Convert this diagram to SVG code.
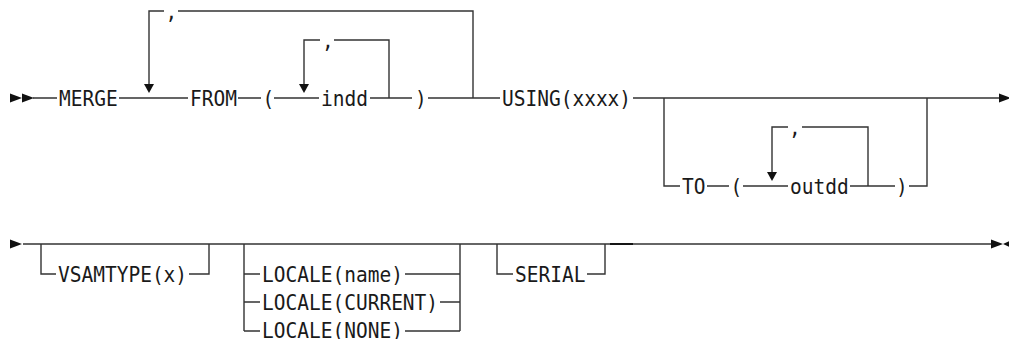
<svg xmlns="http://www.w3.org/2000/svg" width="1009" height="339" viewBox="0 0 1009 339">
<style>
.ln{stroke:#333;stroke-width:1.4;fill:none}
.dk{stroke:#111;stroke-width:1.9;fill:none}
.t{font-family:"DejaVu Sans Mono","Liberation Mono",monospace;font-size:21px;fill:#1a1a1a}
.ah{fill:#111}
</style>
<defs>
<path id="down" d="M-5,-9 L5,-9 L0,0 Z"/>
<path id="right" d="M0,-4.5 L12,0 L0,4.5 Z"/>
<path id="left" d="M10,-4.5 L0,0 L10,4.5 Z"/>
</defs>
<rect width="1009" height="339" fill="#fff"/>
<g id="connectors">
<path class="ln" d="M33,98 H57 M119,98 H188 M238,98 H261 M274,98 H319 M370,98 H412 M428,98 H500 M633,98 H1001"/>
<path class="ln" d="M149,91 V11 H164 M178,11 H473 V98"/>
<path class="ln" d="M304,91 V40 H320 M334,40 H389 V98"/>
<path class="ln" d="M664,98 V186 H680 M707,186 H729 M743,186 H788 M850,186 H895 M909,186 H927 V98"/>
<path class="ln" d="M772,179 V127 H788 M802,127 H868 V186"/>
<path class="ln" d="M23,244 H993"/>
<path class="ln" d="M41,244 V274 H56 M189,274 H209 V244"/>
<path class="ln" d="M244,244 V331 M244,274 H260 M244,302 H260 M244,331 H260 M405,274 H460 M440,302 H460 M405,331 H460 M460,244 V331"/>
<path class="ln" d="M497,244 V274 H513 M587,274 H605 V244"/>
<path class="dk" d="M610,244 H633"/>
<use href="#right" class="ah" x="10" y="98"/>
<use href="#right" class="ah" x="22" y="98"/>
<use href="#down" class="ah" x="149" y="93"/>
<use href="#down" class="ah" x="304" y="93"/>
<use href="#down" class="ah" x="772" y="181"/>
<use href="#right" class="ah" x="999" y="98"/>
<use href="#right" class="ah" x="10" y="244"/>
<use href="#right" class="ah" x="991" y="244"/>
<use href="#left" class="ah" x="1003" y="244"/>
</g>
<g id="merge"><text class="t" x="59" y="105.5" textLength="58.7" lengthAdjust="spacingAndGlyphs">MERGE</text></g>
<g id="comma-outer"><text class="t" x="165.6" y="18.5" textLength="11.7" lengthAdjust="spacingAndGlyphs">,</text></g>
<g id="from"><text class="t" x="190" y="105.5" textLength="47" lengthAdjust="spacingAndGlyphs">FROM</text></g>
<g id="lparen1"><text class="t" x="262.5" y="105.5" textLength="11.7" lengthAdjust="spacingAndGlyphs">(</text></g>
<g id="comma-indd"><text class="t" x="322" y="47.5" textLength="11.7" lengthAdjust="spacingAndGlyphs">,</text></g>
<g id="indd"><text class="t" x="321" y="105.5" textLength="47" lengthAdjust="spacingAndGlyphs">indd</text></g>
<g id="rparen1"><text class="t" x="415" y="105.5" textLength="11.7" lengthAdjust="spacingAndGlyphs">)</text></g>
<g id="using"><text class="t" x="502" y="105.5" textLength="129.1" lengthAdjust="spacingAndGlyphs">USING(xxxx)</text></g>
<g id="to"><text class="t" x="682" y="193.5" textLength="23.5" lengthAdjust="spacingAndGlyphs">TO</text></g>
<g id="lparen2"><text class="t" x="730.5" y="193.5" textLength="11.7" lengthAdjust="spacingAndGlyphs">(</text></g>
<g id="comma-outdd"><text class="t" x="789" y="134.5" textLength="11.7" lengthAdjust="spacingAndGlyphs">,</text></g>
<g id="outdd"><text class="t" x="790" y="193.5" textLength="58.7" lengthAdjust="spacingAndGlyphs">outdd</text></g>
<g id="rparen2"><text class="t" x="896" y="193.5" textLength="11.7" lengthAdjust="spacingAndGlyphs">)</text></g>
<g id="vsamtype"><text class="t" x="58" y="281.5" textLength="129.1" lengthAdjust="spacingAndGlyphs">VSAMTYPE(x)</text></g>
<g id="locale-name"><text class="t" x="262" y="281.5" textLength="140.9" lengthAdjust="spacingAndGlyphs">LOCALE(name)</text></g>
<g id="locale-current"><text class="t" x="262" y="309.5" textLength="176.1" lengthAdjust="spacingAndGlyphs">LOCALE(CURRENT)</text></g>
<g id="locale-none"><text class="t" x="262" y="338" textLength="140.9" lengthAdjust="spacingAndGlyphs">LOCALE(NONE)</text></g>
<g id="serial"><text class="t" x="515" y="281.5" textLength="70.4" lengthAdjust="spacingAndGlyphs">SERIAL</text></g>
</svg>
